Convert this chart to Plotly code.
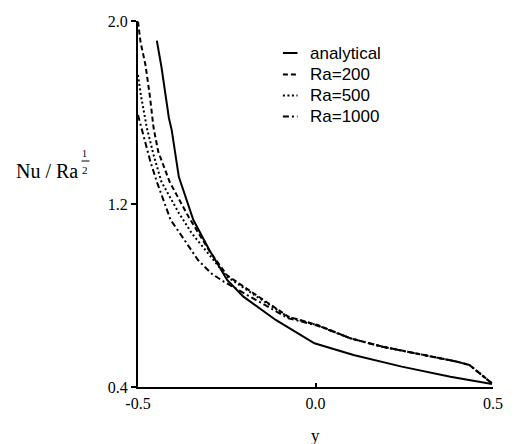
import plotly.graph_objects as go

# ---- data ----
x_analytical = [-0.447, -0.434, -0.413, -0.405, -0.385, -0.372, -0.344, -0.299, -0.249,
                -0.203, -0.112, -0.003, 0.107, 0.243, 0.380, 0.497]
y_analytical = [1.914, 1.800, 1.576, 1.523, 1.319, 1.261, 1.130, 0.999, 0.868,
                0.795, 0.693, 0.591, 0.540, 0.489, 0.445, 0.413]

x_tail = [0.098, 0.189, 0.307, 0.398, 0.434, 0.462, 0.497]
y_tail = [0.613, 0.576, 0.540, 0.511, 0.496, 0.460, 0.416]

x_ra200 = [-0.500, -0.493, -0.479, -0.467, -0.456, -0.443, -0.411, -0.358, -0.299,
           -0.249, -0.167, -0.076, 0.006] + x_tail
y_ra200 = [1.997, 1.909, 1.808, 1.677, 1.532, 1.429, 1.297, 1.145, 0.995,
           0.888, 0.802, 0.707, 0.671] + y_tail

x_ra500 = [-0.500, -0.492, -0.475, -0.456, -0.434, -0.385, -0.349, -0.303, -0.249,
           -0.167, -0.076, 0.006] + x_tail
y_ra500 = [1.764, 1.677, 1.532, 1.414, 1.297, 1.161, 1.073, 0.986, 0.882,
           0.797, 0.705, 0.670] + y_tail

x_ra1000 = [-0.500, -0.465, -0.447, -0.408, -0.385, -0.331, -0.294, -0.258,
            -0.167, -0.076, 0.006] + x_tail
y_ra1000 = [1.589, 1.385, 1.297, 1.130, 1.079, 0.955, 0.897, 0.860,
            0.780, 0.700, 0.668] + y_tail

series_names = ["analytical", "Ra=200", "Ra=500", "Ra=1000"]
x_ticks = [-0.5, 0.0, 0.5]
x_ticktext = ["-0.5", "0.0", "0.5"]
y_ticks = [0.4, 1.2, 2.0]
y_ticktext = ["0.4", "1.2", "2.0"]

dashes = ["solid", "5px,3px", "2px,2.5px", "6px,3px,2px,3px"]
xs = [x_analytical, x_ra200, x_ra500, x_ra1000]
ys = [y_analytical, y_ra200, y_ra500, y_ra1000]

fig = go.Figure()
for name, x, y, d in zip(series_names, xs, ys, dashes):
    fig.add_trace(go.Scatter(x=x, y=y, mode="lines", name=name, showlegend=False,
                             line=dict(color="black", width=2, dash=d)))

# ---- manual legend (paper coords of plot area) ----
L, R, T, B = 138, 503, 21, 387
def px(xp):
    return (xp - L) / (R - L)
def py(yp):
    return (B - yp) / (B - T)

legend_rows = [53, 74.5, 95.5, 116.5]
for name, d, row in zip(series_names, dashes, legend_rows):
    fig.add_shape(type="line", xref="paper", yref="paper",
                  x0=px(287), x1=px(302), y0=py(row), y1=py(row),
                  line=dict(color="black", width=2, dash=d))
    fig.add_annotation(text=name, xref="paper", yref="paper", x=px(313), y=py(row),
                       xanchor="left", yanchor="middle", showarrow=False,
                       font=dict(family="Liberation Sans", size=17, color="black"))

# ---- axis titles ----
fig.add_annotation(text="Nu / Ra", xref="paper", yref="paper", x=px(11), y=py(171),
                   xanchor="left", yanchor="middle", showarrow=False,
                   font=dict(family="Liberation Serif", size=20, color="black"))
fig.add_annotation(text="1", xref="paper", yref="paper", x=px(83), y=py(154),
                   xanchor="center", yanchor="middle", showarrow=False,
                   font=dict(family="Liberation Serif", size=10, color="black"))
fig.add_annotation(text="2", xref="paper", yref="paper", x=px(84), y=py(170),
                   xanchor="center", yanchor="middle", showarrow=False,
                   font=dict(family="Liberation Serif", size=11, color="black"))
fig.add_shape(type="line", xref="paper", yref="paper", x0=px(80), x1=px(88),
              y0=py(161), y1=py(161), line=dict(color="black", width=1))
fig.add_annotation(text="y", xref="paper", yref="paper", x=px(320), y=py(435),
                   xanchor="center", yanchor="middle", showarrow=False,
                   font=dict(family="Liberation Serif", size=17, color="black"))

fig.update_xaxes(range=[-0.5, 0.5], tickvals=x_ticks, ticktext=x_ticktext,
                 showline=True, linewidth=2, linecolor="black", mirror=False,
                 showgrid=False, zeroline=False, ticks="inside", ticklen=4,
                 tickwidth=1.5, tickcolor="black", ticklabelstandoff=1,
                 tickfont=dict(family="Liberation Serif", size=16, color="black"))
fig.update_yaxes(range=[0.4, 2.0], tickvals=y_ticks, ticktext=y_ticktext,
                 showline=True, linewidth=2, linecolor="black", mirror=False,
                 showgrid=False, zeroline=False, ticks="outside", ticklen=5,
                 tickwidth=1.5, tickcolor="black",
                 tickfont=dict(family="Liberation Serif", size=16, color="black"))

fig.update_layout(width=514, height=444, autosize=False,
                  margin=dict(l=L, r=514 - R, t=T, b=444 - B, pad=0),
                  paper_bgcolor="white", plot_bgcolor="white", showlegend=False)

fig.write_html("out.html", config={"displayModeBar": False},
               post_script="document.body.style.margin='0';document.body.style.overflow='hidden';")
